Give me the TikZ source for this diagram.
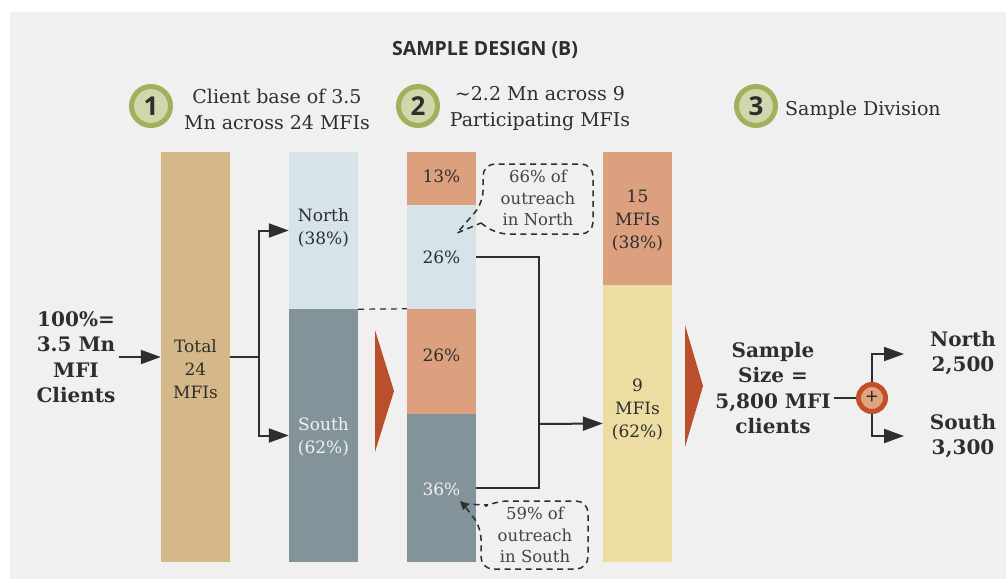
\documentclass[tikz,border=0pt]{standalone}
\usepackage{fontspec}
\setmainfont{DejaVu Serif}
\newfontfamily\headfont{Open Sans}
\usetikzlibrary{arrows.meta,calc}
\definecolor{bgc}{HTML}{F0F0F0}
\definecolor{tanc}{HTML}{D5B888}
\definecolor{bluec}{HTML}{D6E3E8}
\definecolor{greyc}{HTML}{82939A}
\definecolor{orangec}{HTML}{DCA07E}
\definecolor{yellowc}{HTML}{ECDDA3}
\definecolor{redc}{HTML}{B94F2B}
\definecolor{ringc}{HTML}{A3AF5B}
\definecolor{ringin}{HTML}{D2D6AC}
\definecolor{darkc}{HTML}{2E2E2E}
\definecolor{plusring}{HTML}{C0502A}
\definecolor{plusin}{HTML}{E2A47F}
\begin{document}
\begin{tikzpicture}[x=1pt,y=-1pt,
  bar/.style={draw=none,minimum width=69pt,inner sep=0pt},
  lbl/.style={align=center,inner sep=0pt,text=darkc,font=\fontsize{17}{23}\selectfont},
  wlbl/.style={lbl,text=white!95!black},
  head/.style={align=center,inner sep=0pt,text=darkc,font=\fontsize{19}{26}\selectfont},
  bold/.style={align=center,inner sep=3pt,text=darkc,font=\bfseries\fontsize{20}{25.5}\selectfont},
  calltxt/.style={align=center,inner sep=0pt,text=darkc!90,font=\fontsize{16.5}{21.5}\selectfont},
  callout/.style={draw=darkc,line width=1.5pt,dash pattern=on 6pt off 4.5pt},
  numc/.style={circle,draw=ringc,fill=ringin,line width=5pt,minimum size=39pt,inner sep=0pt,text=darkc,font=\headfont\bfseries\fontsize{26}{26}\selectfont},
  conn/.style={draw=darkc,line width=2pt},
  arr/.style={conn,-{Triangle[length=20pt,width=14pt]}},
]
\useasboundingbox (0,0) rectangle (1006,579);
\fill[white] (0,0) rectangle (1006,579);
\fill[bgc] (10,12) rectangle (1006,579);

% title
\node[text=darkc,font=\headfont\bfseries\fontsize{19.5}{19.5}\selectfont] (title) at (485,50) {SAMPLE DESIGN (B)};

% step headers
\node[numc] (c1) at (151,106) {1};
\node[head] (h1) at (277,109) {Client base of 3.5\\Mn across 24 MFIs};
\node[numc] (c2) at (418,106) {2};
\node[head] (h2) at (540,109) {\textasciitilde2.2 Mn across 9\\Participating MFIs};
\node[numc] (c3) at (756,106) {3};
\node[head,anchor=west] (h3) at (785,110) {Sample Division};

% bars
\node[bar,fill=tanc,minimum height=410pt] (b1) at (195.5,357) {};
\node[bar,fill=bluec,minimum height=157pt] (b2n) at (323.5,230.5) {};
\node[bar,fill=greyc,minimum height=253pt] (b2s) at (323.5,435.5) {};
\node[bar,fill=orangec,minimum height=53pt] (b3a) at (441.5,178.5) {};
\node[bar,fill=bluec,minimum height=104pt] (b3b) at (441.5,257) {};
\node[bar,fill=orangec,minimum height=105pt] (b3c) at (441.5,361.5) {};
\node[bar,fill=greyc,minimum height=148pt] (b3d) at (441.5,488) {};
\node[bar,fill=orangec,minimum height=133pt] (b4a) at (637.5,218.5) {};
\node[bar,fill=yellowc,minimum height=277pt] (b4b) at (637.5,423.5) {};

% bar labels
\node[lbl] (t1) at (195.5,369) {Total\\24\\MFIs};
\node[lbl] (t2n) at (323.5,228) {North\\(38\%)};
\node[wlbl] (t2s) at (323.5,437) {South\\(62\%)};
\node[lbl] (t3a) at (441.5,176) {13\%};
\node[lbl] (t3b) at (441.5,257) {26\%};
\node[lbl] (t3c) at (441.5,355) {26\%};
\node[wlbl] (t3d) at (441.5,489) {36\%};
\node[lbl] (t4a) at (637.5,221) {15\\MFIs\\(38\%)};
\node[lbl] (t4b) at (637.5,410) {9\\MFIs\\(62\%)};

% dashed separator
\draw[draw=darkc,line width=1.2pt,dash pattern=on 6pt off 5pt] (b2n.south east) -- (b3c.north west);

% red chevrons
\fill[redc] (375,330) -- (394,391) -- (375,452) -- cycle;
\fill[redc] (685,325) -- (703,386) -- (685,447) -- cycle;

% left text and connectors
\node[bold] (src) at (76,357) {100\%=\\3.5 Mn\\MFI\\Clients};
\draw[arr] (src.east) -- (b1.west);
\coordinate (s1) at (259,357);
\draw[conn] (b1.east) -- (s1);
\draw[arr] (s1) |- (b2n.west);
\draw[arr] (s1) |- (b2s.west);

\coordinate (j2) at (539,424);
\draw[conn] (b3b.east) -| (j2) |- (b3d.east);
\draw[arr] (j2) -- (b4b.west);

% callouts
\draw[callout,rounded corners=12pt] (481,223) -- (496,234) -- (593,234) -- (593,164) -- (483,164) -- (483,203) [sharp corners] -- (457,233) -- (481,223);
\node[calltxt] (cn) at (538,198) {66\% of\\outreach\\in North};
\draw[callout,rounded corners=12pt] (488,505) -- (496,501) -- (588,501) -- (588,569) -- (481,569) -- (481,527) [sharp corners] -- (463,504) -- (488,505);
\fill[darkc] (460,501) -- (469,504) -- (463,510) -- cycle;
\node[calltxt] (cs) at (535,535) {59\% of\\outreach\\in South};

% sample division
\node[bold] (samp) at (773,388) {Sample\\Size =\\5,800 MFI\\clients};
\node[circle,draw=plusring,fill=plusin,line width=5pt,minimum size=27pt,inner sep=0pt,text=darkc,font=\headfont\fontsize{22}{22}\selectfont] (plus) at (872,398) {+};
\draw[conn] (plus.west) -- (plus.west -| samp.east);
\node[bold] (nlab) at (963,353) {North\\2,500};
\node[bold] (slab) at (963,436) {South\\3,300};
\coordinate (nend) at (904,354);
\coordinate (send) at (904,436);
\draw[arr] (plus.north) |- (nend);
\draw[arr] (plus.south) |- (send);
\end{tikzpicture}
\end{document}
